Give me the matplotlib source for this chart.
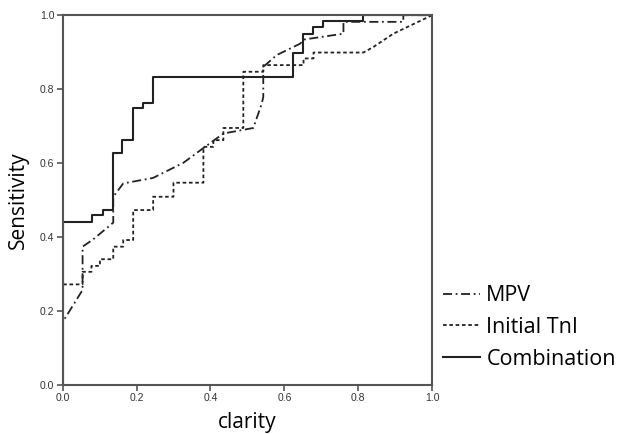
import matplotlib
matplotlib.use('Agg')
import matplotlib.pyplot as plt

# ROC curve points
comb_x = [0.0, 0.0, 0.079, 0.079, 0.11, 0.11, 0.137, 0.137, 0.162, 0.162, 0.191, 0.191,
          0.218, 0.218, 0.245, 0.245, 0.623, 0.623, 0.65, 0.65, 0.677, 0.677, 0.704, 0.704,
          0.814, 0.814, 1.0]
comb_y = [0.0, 0.44, 0.44, 0.459, 0.459, 0.473, 0.473, 0.628, 0.628, 0.662, 0.662, 0.748,
          0.748, 0.763, 0.763, 0.832, 0.832, 0.899, 0.899, 0.95, 0.95, 0.968, 0.968, 0.984,
          0.984, 1.0, 1.0]

mpv_x = [0.0, 0.0, 0.054, 0.054, 0.083, 0.137, 0.137, 0.164, 0.245, 0.327, 0.38, 0.435,
         0.516, 0.539, 0.543, 0.543, 0.579, 0.643, 0.652, 0.76, 0.76, 0.922, 0.922, 1.0]
mpv_y = [0.0, 0.17, 0.257, 0.374, 0.394, 0.439, 0.509, 0.545, 0.56, 0.601, 0.64, 0.68,
         0.695, 0.761, 0.779, 0.86, 0.892, 0.923, 0.934, 0.95, 0.982, 0.982, 1.0, 1.0]

tni_x = [0.0, 0.0, 0.054, 0.054, 0.078, 0.078, 0.101, 0.101, 0.137, 0.137, 0.164, 0.164,
         0.191, 0.191, 0.245, 0.245, 0.30, 0.30, 0.381, 0.381, 0.408, 0.408, 0.435, 0.435,
         0.489, 0.489, 0.543, 0.543, 0.652, 0.652, 0.679, 0.679, 0.814, 0.841, 0.868,
         0.895, 1.0]
tni_y = [0.0, 0.272, 0.272, 0.306, 0.306, 0.322, 0.322, 0.34, 0.34, 0.374, 0.374, 0.392,
         0.392, 0.473, 0.473, 0.509, 0.509, 0.547, 0.547, 0.644, 0.644, 0.662, 0.662, 0.695,
         0.695, 0.847, 0.847, 0.865, 0.865, 0.883, 0.883, 0.899, 0.899, 0.914, 0.932,
         0.95, 1.0]

ticks = [0.0, 0.2, 0.4, 0.6, 0.8, 1.0]
tick_labels = ['0.0', '0.2', '0.4', '0.6', '0.8', '1.0']

fig = plt.figure(figsize=(6.2, 4.34), dpi=100)
ax = fig.add_axes([0.101, 0.113, 0.596, 0.852])

ink = '#222222'
l1, = ax.plot(mpv_x, mpv_y, color=ink, lw=1.3, linestyle=(0, (5, 2, 1, 2)))
l2, = ax.plot(tni_x, tni_y, color=ink, lw=1.3, linestyle=(0, (2, 1.5)))
l3, = ax.plot(comb_x, comb_y, color=ink, lw=1.5)

ax.set_xlim(0, 1)
ax.set_ylim(0, 1)
ax.set_xticks(ticks)
ax.set_yticks(ticks)
ax.set_xticklabels(tick_labels, fontsize=7.5, color='#333333', family='Liberation Sans')
ax.set_yticklabels(tick_labels, fontsize=7.5, color='#333333', family='Liberation Sans')
ax.tick_params(length=4, width=1.2, color='#555555', pad=2)
for s in ax.spines.values():
    s.set_color('#555555')
    s.set_linewidth(1.5)

ax.set_xlabel('clarity', fontsize=15, family='Open Sans', labelpad=6)
ax.set_ylabel('Sensitivity', fontsize=15, family='Open Sans', labelpad=8)

fig.legend([l1, l2, l3], ['MPV', 'Initial TnI', 'Combination'],
           loc='upper left', bbox_to_anchor=(0.708, 0.353), frameon=False,
           prop={'family': 'Open Sans', 'size': 15.5}, handlelength=1.7,
           handletextpad=0.3, labelspacing=0.5, borderpad=0.2, borderaxespad=0)

fig.savefig('out.png', dpi=100)
